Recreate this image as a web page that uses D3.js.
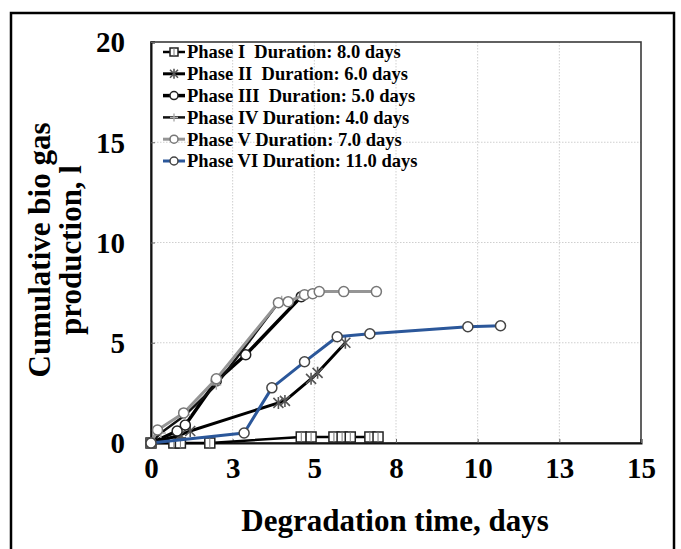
<!DOCTYPE html>
<html>
<head>
<meta charset="utf-8">
<script src="https://cdn.jsdelivr.net/npm/d3@7"></script>
<style>
  html, body { margin: 0; padding: 0; background: #fff; }
  svg { display: block; }
  text { font-family: "Liberation Serif", "Times New Roman", serif; font-weight: bold; fill: #000; }
</style>
</head>
<body>
<div id="chart"></div>
<script>
(function () {
    'use strict';

    // data: [days, litres]
    var phaseI = [[0, 0], [0.7, 0], [0.9, 0], [1.8, 0], [4.6, 0.3], [4.9, 0.3], [5.6, 0.3], [5.85, 0.3], [6.1, 0.3], [6.7, 0.3], [6.95, 0.3]];
    var phaseII = [[0, 0], [0.9, 0.4], [1.2, 0.6], [3.9, 2.0], [4.1, 2.1], [4.9, 3.2], [5.1, 3.5], [5.95, 5.0]];
    var phaseIII = [[0, 0], [0.8, 0.6], [1.05, 0.9], [2.0, 3.1], [2.9, 4.4], [4.6, 7.3]];
    var phaseIV = [[0, 0], [0.3, 0.5], [1.05, 1.4], [2.0, 2.9], [3.9, 7.0], [4.0, 7.1]];
    var phaseV = [[0, 0], [0.2, 0.65], [1.0, 1.5], [2.0, 3.2], [3.9, 7.0], [4.2, 7.05], [4.7, 7.4], [4.95, 7.45], [5.15, 7.55], [5.9, 7.55], [6.9, 7.55]];
    var phaseVI = [[0, 0], [2.85, 0.5], [3.7, 2.75], [4.7, 4.05], [5.7, 5.3], [6.7, 5.45], [9.7, 5.8], [10.7, 5.85]];

    var legendLabels = [
        'Phase I  Duration: 8.0 days',
        'Phase II  Duration: 6.0 days',
        'Phase III  Duration: 5.0 days',
        'Phase IV Duration: 4.0 days',
        'Phase V Duration: 7.0 days',
        'Phase VI Duration: 11.0 days'
    ];

    var xTicks = [0, 2.5, 5, 7.5, 10, 12.5, 15];
    var yTicks = [0, 5, 10, 15, 20];

    var series = [
        { data: phaseI, line: '#000', width: 2.5, marker: 'square', mStroke: '#222' },
        { data: phaseII, line: '#000', width: 3, marker: 'star', mStroke: '#555' },
        { data: phaseIII, line: '#000', width: 3.5, marker: 'circle', mStroke: '#222' },
        { data: phaseIV, line: '#111', width: 2.5, marker: 'plus', mStroke: '#aaa' },
        { data: phaseV, line: '#959595', width: 3, marker: 'circle', mStroke: '#777' },
        { data: phaseVI, line: '#2b579a', width: 3, marker: 'circle', mStroke: '#444' }
    ];

    var W = 681, H = 549;
    var plot = { left: 151, right: 641, top: 42, bottom: 443 };

    var svg = d3.select('#chart').append('svg')
        .attr('width', W)
        .attr('height', H);

    // outer frame
    svg.append('rect')
        .attr('x', 11).attr('y', 13)
        .attr('width', 663).attr('height', 560)
        .attr('fill', 'none')
        .attr('stroke', '#000')
        .attr('stroke-width', 2.5);

    var x = d3.scaleLinear().domain([0, 15]).range([plot.left, plot.right]);
    var y = d3.scaleLinear().domain([0, 20]).range([plot.bottom, plot.top]);

    // grid
    var grid = svg.append('g');
    grid.selectAll('line.gx')
        .data(xTicks.slice(1, -1))
        .enter().append('line')
        .attr('x1', function (d) { return x(d); })
        .attr('x2', function (d) { return x(d); })
        .attr('y1', plot.top).attr('y2', plot.bottom)
        .attr('stroke', '#cfcfcf').attr('stroke-width', 1)
        .attr('stroke-dasharray', '1.5,1.5');
    grid.selectAll('line.gy')
        .data(yTicks.slice(1, -1))
        .enter().append('line')
        .attr('y1', function (d) { return y(d); })
        .attr('y2', function (d) { return y(d); })
        .attr('x1', plot.left).attr('x2', plot.right)
        .attr('stroke', '#cfcfcf').attr('stroke-width', 1)
        .attr('stroke-dasharray', '1.5,1.5');

    // plot border
    svg.append('rect')
        .attr('x', plot.left).attr('y', plot.top)
        .attr('width', plot.right - plot.left)
        .attr('height', plot.bottom - plot.top)
        .attr('fill', 'none')
        .attr('stroke', '#3a3a3a')
        .attr('stroke-width', 1.6);

    // axes
    var xAxis = svg.append('g')
        .attr('transform', 'translate(0,' + plot.bottom + ')')
        .call(d3.axisBottom(x).tickValues(xTicks).tickSize(-4).tickPadding(12)
            .tickFormat(function (d) { return Math.round(d); }));
    var yAxis = svg.append('g')
        .attr('transform', 'translate(' + plot.left + ',0)')
        .call(d3.axisLeft(y).tickValues(yTicks).tickSize(-4).tickPadding(26)
            .tickFormat(function (d) { return d; }));

    [xAxis, yAxis].forEach(function (ax) {
        ax.select('.domain').attr('stroke', '#111').attr('stroke-width', 2);
        ax.selectAll('.tick line').attr('stroke', '#666');
        ax.selectAll('.tick text')
            .attr('font-family', '"Liberation Serif", "Times New Roman", serif')
            .attr('font-weight', 'bold')
            .attr('font-size', 29)
            .attr('fill', '#000');
    });
    xAxis.selectAll('.tick text').attr('dy', '0.71em').attr('y', 14);
    yAxis.selectAll('.tick text').attr('dy', '0.34em');

    // axis titles
    svg.append('text')
        .attr('x', 395).attr('y', 531)
        .attr('text-anchor', 'middle')
        .attr('font-size', 31)
        .text('Degradation time, days');

    var yTitle = svg.append('text')
        .attr('transform', 'translate(50,250) rotate(-90)')
        .attr('text-anchor', 'middle')
        .attr('font-size', 31);
    yTitle.append('tspan').attr('x', 0).attr('dy', 0).text('Cumulative bio gas');
    yTitle.append('tspan').attr('x', 0).attr('dy', 31).text('production, l');

    function drawMarker(g, type, cx, cy, stroke, size) {
        var r = size || 5;
        if (type === 'circle') {
            g.append('circle')
                .attr('cx', cx).attr('cy', cy).attr('r', r)
                .attr('fill', '#fff').attr('stroke', stroke).attr('stroke-width', 1.5);
        } else if (type === 'square') {
            g.append('rect')
                .attr('x', cx - r).attr('y', cy - r)
                .attr('width', 2 * r).attr('height', 2 * r)
                .attr('fill', '#fff').attr('stroke', stroke).attr('stroke-width', 1.5);
            g.append('line')
                .attr('x1', cx).attr('x2', cx).attr('y1', cy - r).attr('y2', cy + r)
                .attr('stroke', '#777').attr('stroke-width', 1);
        } else if (type === 'star') {
            g.append('path')
                .attr('d', 'M' + (cx - r) + ',' + (cy - r) + 'L' + (cx + r) + ',' + (cy + r) +
                    'M' + (cx - r) + ',' + (cy + r) + 'L' + (cx + r) + ',' + (cy - r) +
                    'M' + cx + ',' + (cy - r - 1) + 'L' + cx + ',' + (cy + r + 1))
                .attr('stroke', stroke).attr('stroke-width', 1.6).attr('fill', 'none');
        } else if (type === 'plus') {
            g.append('path')
                .attr('d', 'M' + (cx - r) + ',' + cy + 'L' + (cx + r) + ',' + cy +
                    'M' + cx + ',' + (cy - r) + 'L' + cx + ',' + (cy + r))
                .attr('stroke', stroke).attr('stroke-width', 1.4).attr('fill', 'none');
        }
    }

    var line = d3.line()
        .x(function (d) { return x(d[0]); })
        .y(function (d) { return y(d[1]); });

    var marks = svg.append('g');
    series.forEach(function (s) {
        var g = marks.append('g');
        g.append('path')
            .datum(s.data)
            .attr('d', line)
            .attr('fill', 'none')
            .attr('stroke', s.line)
            .attr('stroke-width', s.width)
            .attr('stroke-linejoin', 'round');
        s.data.forEach(function (d) {
            drawMarker(g, s.marker, x(d[0]), y(d[1]), s.mStroke);
        });
    });

    // legend (transparent, inside plot top-left)
    var legend = svg.append('g');
    legendLabels.forEach(function (label, i) {
        var ly = 52 + i * 21.8;
        var s = series[i];
        legend.append('line')
            .attr('x1', 163).attr('x2', 185)
            .attr('y1', ly).attr('y2', ly)
            .attr('stroke', s.line).attr('stroke-width', s.width);
        drawMarker(legend, s.marker, 174, ly, s.mStroke, 4);
        legend.append('text')
            .attr('x', 187).attr('y', ly)
            .attr('dy', '0.35em')
            .attr('font-size', 18.5)
            .style('white-space', 'pre')
            .text(label);
    });
}());
</script>
</body>
</html>
